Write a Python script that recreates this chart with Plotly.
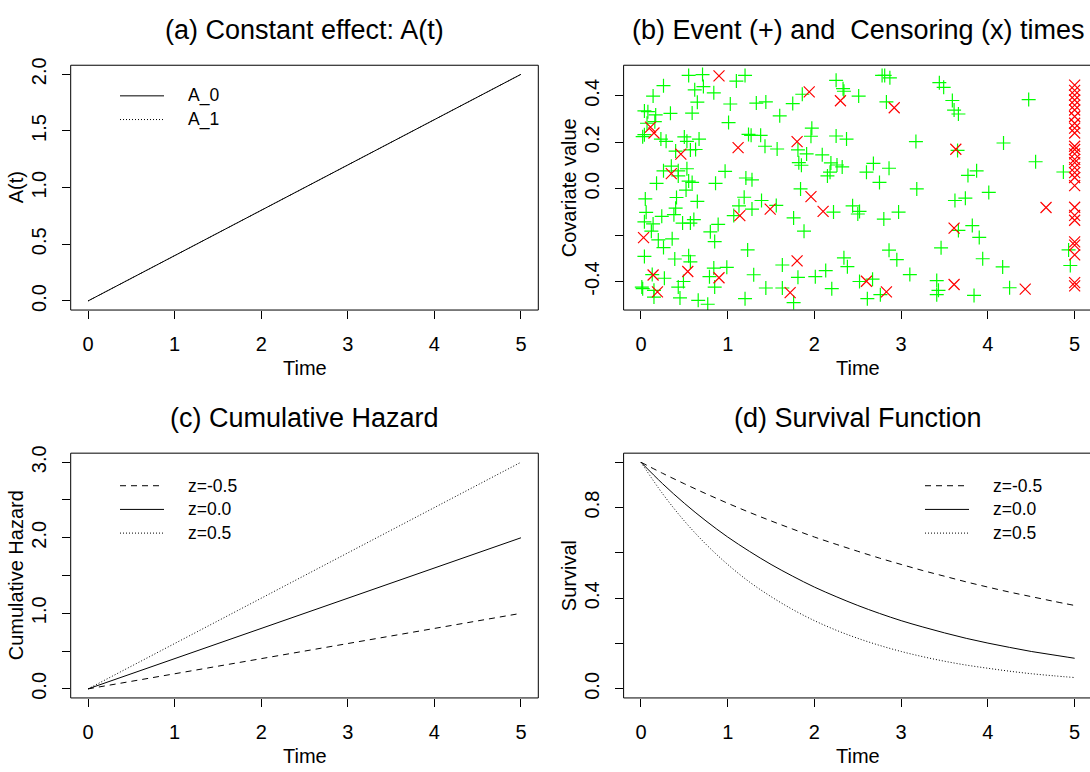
import plotly.graph_objects as go

# ---------------- data ----------------
time_ends = [0, 5]
A_0 = [0.0, 2.0]
A_1 = [0.0, 2.0]

cumhaz_zm05 = [0.0, 1.0]
cumhaz_z0 = [0.0, 2.0]
cumhaz_zp05 = [0.0, 3.0]

surv_time = [0, 0.25, 0.5, 0.75, 1, 1.25, 1.5, 1.75, 2, 2.25, 2.5, 2.75, 3,
             3.25, 3.5, 3.75, 4, 4.25, 4.5, 4.75, 5]
surv_zm05 = [1, .951, .905, .861, .819, .779, .741, .705, .670, .638, .607, .577,
             .549, .522, .497, .472, .449, .427, .407, .387, .368]
surv_z0 = [1, .905, .819, .741, .670, .607, .549, .497, .449, .407, .368, .333,
           .301, .273, .247, .223, .202, .183, .165, .150, .135]
surv_zp05 = [1, .861, .741, .638, .549, .472, .407, .350, .301, .259, .223, .192,
             .165, .142, .122, .105, .091, .078, .067, .058, .050]

event_time = [0.55, 0.71, 1.20, 1.10, 0.26, 0.62, 0.72, 0.84, 0.14, 0.65, 1.03, 1.33, 1.44,
              0.04, 0.08, 0.17, 0.34, 0.59, 1.60, 1.01, 0.16, 0.07, 0.02, 0.04, 0.23, 0.29,
              0.50, 0.53, 0.67, 1.24, 1.38, 1.27, 1.43, 1.57, 0.40, 0.57, 0.63, 0.26, 0.35,
              0.53, 0.43, 0.97, 1.21, 1.28, 0.55, 0.59, 0.18, 0.86, 0.43,
              2.25, 2.78, 2.87, 2.81, 2.33, 2.34, 1.86, 2.51, 1.75, 2.83, 1.97, 1.96, 2.25,
              2.37, 3.17, 1.81, 1.91, 2.09, 1.82, 1.85, 2.19, 2.26, 2.32, 2.68, 2.60, 2.86,
              2.18, 2.15, 2.75,
              3.44, 3.49, 3.59, 3.61, 3.66, 4.47, 4.18, 3.65, 4.55, 3.87, 3.77, 4.87,
              4.01, 3.62, 3.74, 3.82, 3.66, 3.90, 3.46, 3.94, 4.17, 4.93, 4.95, 3.41, 3.43,
              3.41, 4.25, 3.84,
              0.05, 0.41, 0.52, 0.65, 1.19, 1.39, 1.13, 1.28, 1.56, 0.40, 0.38, 0.06, 0.24,
              0.61, 1.07, 0.04, 0.14, 0.48, 0.57, 0.12, 0.89, 0.80, 0.36, 0.20, 0.26, 0.85,
              1.23, 0.04, 0.39, 0.55, 0.57, 0.84, 0.99, 0.79, 0.27, 1.30, 0.13, 0.01, 0.02,
              0.15, 0.49, 0.43, 0.85, 1.44, 0.15, 0.45, 0.66, 0.77, 1.20, 1.63, 1.63,
              3.18, 1.84, 2.44, 2.52, 2.50, 2.22, 2.97, 2.80, 1.76, 1.88, 2.86, 2.95, 2.34,
              2.38, 2.13, 1.81, 2.01, 3.10, 2.67, 2.52, 2.20, 2.76, 2.61, 1.76]
event_z = [0.488, 0.492, 0.488, 0.464, 0.444, 0.426, 0.440, 0.413, 0.399, 0.373, 0.365, 0.369, 0.374,
           0.335, 0.332, 0.318, 0.325, 0.326, 0.314, 0.285, 0.289, 0.282, 0.224, 0.233, 0.214, 0.204,
           0.223, 0.204, 0.214, 0.234, 0.230, 0.230, 0.183, 0.171, 0.162, 0.167, 0.169, 0.077, 0.097,
           0.086, 0.077, 0.075, 0.046, 0.038, 0.033, 0.027, 0.023, 0.023, 0.055,
           0.467, 0.488, 0.478, 0.488, 0.431, 0.420, 0.407, 0.399, 0.367, 0.374, 0.261, 0.226, 0.227,
           0.214, 0.203, 0.167, 0.150, 0.146, 0.112, 0.101, 0.111, 0.102, 0.094, 0.109, 0.071, 0.088,
           0.071, 0.055, 0.027,
           0.457, 0.437, 0.380, 0.339, 0.322, 0.384, 0.197, 0.165, 0.116, 0.077, 0.057, 0.072,
           -0.016, -0.051, -0.041, -0.159, -0.180, -0.210, -0.255, -0.302, -0.337, -0.264, -0.331,
           -0.396, -0.438, -0.457, -0.427, -0.460,
           -0.044, -0.038, -0.006, -0.055, -0.037, -0.051, -0.074, -0.088, -0.072, -0.084, -0.112,
           -0.102, -0.119, -0.133, -0.116, -0.143, -0.152, -0.148, -0.148, -0.183, -0.154, -0.186,
           -0.216, -0.221, -0.254, -0.228, -0.264, -0.292, -0.303, -0.289, -0.315, -0.342, -0.339,
           -0.379, -0.386, -0.371, -0.370, -0.424, -0.431, -0.438, -0.400, -0.424, -0.424, -0.428,
           -0.467, -0.471, -0.481, -0.498, -0.474, -0.329, -0.428,
           -0.001, -0.001, -0.074, -0.098, -0.109, -0.101, -0.101, -0.131, -0.126, -0.183, -0.265,
           -0.306, -0.298, -0.336, -0.353, -0.382, -0.379, -0.370, -0.390, -0.400, -0.431, -0.457,
           -0.474, -0.491]

cens_time = [0.90, 0.11, 0.15, 1.12, 0.46, 0.35, 1.94, 2.30, 2.92, 1.80, 3.63, 4.67, 3.61, 3.61,
             4.43, 1.49, 1.14, 0.03, 0.54, 0.14, 0.90, 0.19, 1.96, 2.10, 1.80, 2.60, 2.83, 1.72,
             5, 5, 5, 5, 5, 5, 5, 5, 5, 5, 5, 5, 5, 5, 5, 5, 5, 5, 5, 5, 5, 5, 5, 5, 5, 5, 5]
cens_z = [0.486, 0.265, 0.240, 0.177, 0.149, 0.065, 0.417, 0.379, 0.349, 0.203, 0.170, -0.081,
          -0.170, -0.413, -0.433, -0.088, -0.116, -0.211, -0.357, -0.372, -0.384, -0.445, -0.034,
          -0.098, -0.311, -0.399, -0.445, -0.448,
          0.446, 0.424, 0.403, 0.382, 0.360, 0.339, 0.311, 0.282, 0.261, 0.240, 0.183, 0.169,
          0.150, 0.126, 0.112, 0.091, 0.069, 0.048, 0.013, -0.080, -0.115, -0.136, -0.229,
          -0.243, -0.285, -0.405, -0.419]

titles = ["(a) Constant effect: A(t)", "(b) Event (+) and  Censoring (x) times",
          "(c) Cumulative Hazard", "(d) Survival Function"]
x_labels = ["Time", "Time", "Time", "Time"]
y_labels = ["A(t)", "Covariate value", "Cumulative Hazard", "Survival"]
x_ticks = [0, 1, 2, 3, 4, 5]
a_ticks = [0, 0.5, 1, 1.5, 2]
a_ticktext = ["0.0", "0.5", "1.0", "1.5", "2.0"]
b_ticks = [-0.4, -0.2, 0.0, 0.2, 0.4]
b_ticktext = ["-0.4", "", "0.0", "0.2", "0.4"]
c_ticks = [0, 0.5, 1, 1.5, 2, 2.5, 3]
c_ticktext = ["0.0", "", "1.0", "", "2.0", "", "3.0"]
d_ticks = [0, 0.2, 0.4, 0.6, 0.8, 1.0]
d_ticktext = ["0.0", "", "0.4", "", "0.8", ""]

# ---------------- layout geometry (pixels) ----------------
W, H = 1090, 772
FONT = "Liberation Sans, Arial, Helvetica, sans-serif"
TICK_SIZE = 20
LAB_SIZE = 20
TITLE_SIZE = 27
LEG_SIZE = 17.5

# boxes: (left, right, top, bottom)
boxes = [(70.7, 538.3, 58, 306), (623.6, 1092, 58, 306),
         (70.7, 538.3, 451, 699), (623.6, 1092, 451, 699)]
xranges = [[-0.2, 5.2], None, [-0.2, 5.2], None]
yranges = [[-0.08, 2.08], [-0.523, 0.532], [-0.12, 3.12], [-0.04, 1.04]]


def fx(px):
    return px / W


def fy(py):
    return 1 - py / H


fig = go.Figure()

DOT = "1px,2px"
DASH = "6px,5px"

# panel a
fig.add_trace(go.Scatter(x=time_ends, y=A_0, mode="lines", line=dict(color="black", width=1),
                         xaxis="x", yaxis="y", showlegend=False))
fig.add_trace(go.Scatter(x=time_ends, y=A_1, mode="lines",
                         line=dict(color="black", width=1, dash=DOT),
                         xaxis="x", yaxis="y", showlegend=False))
# panel b
fig.add_trace(go.Scatter(x=event_time, y=event_z, mode="markers",
                         marker=dict(symbol="cross-thin", size=10, color="#00FF00",
                                     line=dict(color="#00FF00", width=1.2)),
                         xaxis="x2", yaxis="y2", showlegend=False))
fig.add_trace(go.Scatter(x=cens_time, y=cens_z, mode="markers",
                         marker=dict(symbol="x-thin", size=11, color="#FF0000",
                                     line=dict(color="#FF0000", width=1.2)),
                         xaxis="x2", yaxis="y2", showlegend=False))
# panel c
dashes = [DASH, None, DOT]
for ys, d in zip([cumhaz_zm05, cumhaz_z0, cumhaz_zp05], dashes):
    ln = dict(color="black", width=1)
    if d:
        ln["dash"] = d
    fig.add_trace(go.Scatter(x=time_ends, y=ys, mode="lines", line=ln,
                             xaxis="x3", yaxis="y3", showlegend=False))
# panel d
for ys, d in zip([surv_zm05, surv_z0, surv_zp05], dashes):
    ln = dict(color="black", width=1, shape="spline")
    if d:
        ln["dash"] = d
    fig.add_trace(go.Scatter(x=surv_time, y=ys, mode="lines", line=ln,
                             xaxis="x4", yaxis="y4", showlegend=False))

ytick_sets = [(a_ticks, a_ticktext), (b_ticks, b_ticktext), (c_ticks, c_ticktext), (d_ticks, d_ticktext)]
layout = {}
shapes = []
annotations = []
for i, (l, r, t, b) in enumerate(boxes):
    n = "" if i == 0 else str(i + 1)
    xr = xranges[i]
    if xr is None:
        unit = (r - l) / 5.4
        xr = [-0.2, -0.2 + (W - l) / unit]
    dom_r = min(r, W)
    layout["xaxis" + n] = dict(
        domain=[fx(l), fx(dom_r)], range=xr, anchor="y" + n,
        tickvals=x_ticks, ticktext=[str(v) for v in x_ticks],
        ticks="outside", ticklen=8, tickwidth=1, tickcolor="black",
        showgrid=False, zeroline=False, showline=False, fixedrange=True,
        tickfont=dict(family=FONT, size=TICK_SIZE, color="black"),
        ticklabelstandoff=8)
    tv, tt = ytick_sets[i]
    layout["yaxis" + n] = dict(
        domain=[fy(b), fy(t)], range=yranges[i], anchor="x" + n,
        tickvals=tv, ticktext=tt, tickangle=-90,
        ticks="outside", ticklen=8, tickwidth=1, tickcolor="black",
        showgrid=False, zeroline=False, showline=False, fixedrange=True,
        tickfont=dict(family=FONT, size=TICK_SIZE, color="black"),
        ticklabelstandoff=8)
    shapes.append(dict(type="rect", xref="paper", yref="paper",
                       x0=fx(l), x1=fx(r), y0=fy(b), y1=fy(t),
                       line=dict(color="black", width=1), fillcolor="rgba(0,0,0,0)"))
    cx = (l + r) / 2
    annotations.append(dict(text=titles[i], x=fx(cx), y=fy(t - 36), xref="paper", yref="paper",
                            showarrow=False, xanchor="center", yanchor="middle",
                            font=dict(family=FONT, size=TITLE_SIZE, color="black")))
    annotations.append(dict(text=x_labels[i], x=fx(cx), y=fy(b + 59), xref="paper", yref="paper",
                            showarrow=False, xanchor="center", yanchor="middle",
                            font=dict(family=FONT, size=LAB_SIZE, color="black")))
    annotations.append(dict(text=y_labels[i], x=fx(l - 55), y=fy((t + b) / 2), xref="paper",
                            yref="paper", showarrow=False, textangle=-90,
                            xanchor="center", yanchor="middle",
                            font=dict(family=FONT, size=LAB_SIZE, color="black")))

# legends (sample line + text)
legends = [
    (186, [89, 113], ["A_0", "A_1"], [None, DOT]),
    (186, [484, 508, 532], ["z=-0.5", "z=0.0", "z=0.5"], [DASH, None, DOT]),
    (991, [484, 508, 532], ["z=-0.5", "z=0.0", "z=0.5"], [DASH, None, DOT]),
]
for tx, ys, labs, ds in legends:
    for yy, lab, d in zip(ys, labs, ds):
        ln = dict(color="black", width=1)
        if d:
            ln["dash"] = d
        shapes.append(dict(type="line", xref="paper", yref="paper",
                           x0=fx(tx - 66), x1=fx(tx - 22), y0=fy(yy), y1=fy(yy), line=ln))
        annotations.append(dict(text=lab, x=fx(tx), y=fy(yy), xref="paper", yref="paper",
                                showarrow=False, xanchor="left", yanchor="middle",
                                font=dict(family=FONT, size=LEG_SIZE, color="black")))

fig.update_layout(width=W, height=H, margin=dict(l=0, r=0, t=0, b=0),
                  paper_bgcolor="white", plot_bgcolor="white", hovermode=False,
                  shapes=shapes, annotations=annotations, **layout)
fig.write_html("out.html", config={"displayModeBar": False, "staticPlot": True},
               post_script="document.body.style.margin='0';document.body.style.overflow='hidden';")
